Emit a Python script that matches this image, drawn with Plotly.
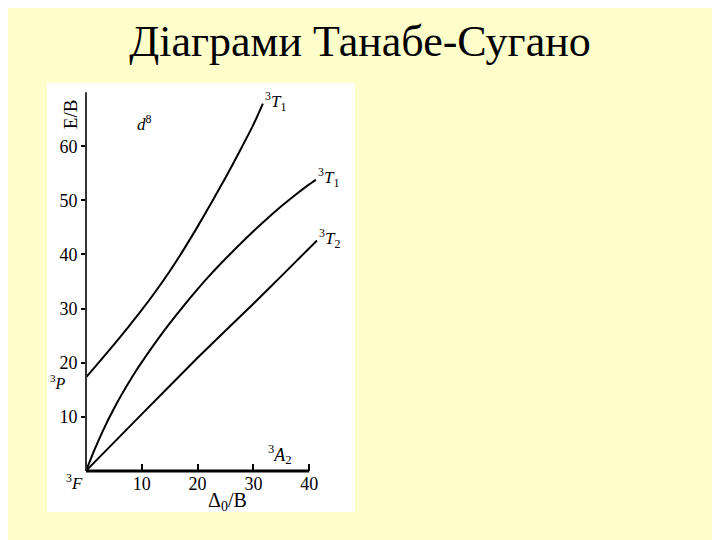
import plotly.graph_objects as go

# ---- data (Tanabe-Sugano d8) ----
top_x = [0, 2.5, 5, 7.5, 10, 12.5, 15, 17.5, 20, 22.5, 25, 27.5, 30, 31.7]
top_E = [17.3, 20.3, 23.35, 26.5, 29.75, 33.2, 36.9, 40.9, 45.15, 49.6, 54.2, 59.0, 64.0, 67.9]

mid_x = [0, 1, 2, 3, 4, 5, 6, 7, 8, 9, 10, 12.5, 15, 17.5, 20, 22.5, 25, 27.5, 30, 32.5, 35, 37.5, 40, 41.2]
mid_E = [0, 2.6, 5.05, 7.35, 9.5, 11.5, 13.4, 15.2, 16.9, 18.55, 20.1, 23.8, 27.25, 30.5,
         33.6, 36.5, 39.2, 41.8, 44.3, 46.65, 48.9, 51.0, 52.95, 53.8]

bot_x = [0, 10, 20, 30, 35, 41.4]
bot_E = [0, 10.5, 20.9, 30.9, 36.0, 42.6]

x_ticks = [10, 20, 30, 40]
y_ticks = [10, 20, 30, 40, 50, 60]
x_axis_max = 40
y_axis_max = 70

curve_labels = ["<sup>3</sup><i>T</i><sub>1</sub>",
                "<sup>3</sup><i>T</i><sub>1</sub>",
                "<sup>3</sup><i>T</i><sub>2</sub>"]

title_text = "Діаграми Танабе-Сугано"
serif = "Liberation Serif"

# the page body adds an 8px offset; the figure is sized to fill the rest of the window
W, H, OFF = 712, 532, 8

fig = go.Figure()
for xs, ys in [(top_x, top_E), (mid_x, mid_E), (bot_x, bot_E)]:
    fig.add_trace(go.Scatter(x=xs, y=ys, mode="lines", line=dict(color="black", width=2),
                             line_shape="spline", line_smoothing=0.6,
                             showlegend=False, hoverinfo="skip"))

# axis lines
fig.add_shape(type="line", x0=0, x1=0, y0=0, y1=y_axis_max, xref="x", yref="y",
              line=dict(color="#333333", width=2))
fig.add_shape(type="line", x0=0, x1=x_axis_max, y0=0, y1=0, xref="x", yref="y",
              line=dict(color="black", width=3))

ann = []
for (xs, ys), lab in zip([(top_x, top_E), (mid_x, mid_E), (bot_x, bot_E)], curve_labels):
    ann.append(dict(x=xs[-1], y=ys[-1], text=lab, showarrow=False, xanchor="left",
                    yanchor="middle", xshift=0, yshift=2,
                    font=dict(family=serif, size=17, color="black")))
ann += [
    dict(x=10.4, y=64.3, text="<i>d</i><sup>8</sup>", showarrow=False,
         font=dict(family=serif, size=17, color="black")),
    dict(x=-5.1, y=16.4, text="<sup>3</sup><i>P</i>", showarrow=False,
         font=dict(family=serif, size=16, color="black")),
    dict(x=-2.0, y=-2.0, text="<sup>3</sup><i>F</i>", showarrow=False,
         font=dict(family=serif, size=17, color="black")),
    dict(x=34.8, y=3.0, text="<sup>3</sup><i>A</i><sub>2</sub>", showarrow=False,
         font=dict(family=serif, size=18, color="black")),
    dict(x=-2.8, y=66.0, text="E/B", textangle=-90, showarrow=False,
         font=dict(family=serif, size=19, color="black")),
    dict(x=25.3, y=-5.7, text="Δ<sub>0</sub>/B", showarrow=False,
         font=dict(family=serif, size=20, color="black")),
]

fig.update_layout(
    width=W, height=H,
    margin=dict(l=47 - OFF, r=W - (355 - OFF), t=83 - OFF, b=H - (512 - OFF)),
    paper_bgcolor="#FFFFCC", plot_bgcolor="white",
    title=dict(text=title_text, x=(360 - OFF) / W, xref="container", xanchor="center",
               y=1 - (41 - OFF) / H, yref="container", yanchor="middle",
               font=dict(family=serif, size=44, color="black")),
    xaxis=dict(range=[-6.99, 48.21], anchor="free", position=0.0958,
               tickvals=x_ticks, ticks="inside", ticklen=7, tickwidth=2, tickcolor="black",
               showgrid=False, zeroline=False, showline=False,
               tickfont=dict(family=serif, size=18, color="black")),
    yaxis=dict(range=[-7.60, 71.70], anchor="free", position=0.1266,
               tickvals=y_ticks, ticks="outside", ticklen=5, tickwidth=2, tickcolor="black",
               showgrid=False, zeroline=False, showline=False,
               tickfont=dict(family=serif, size=18, color="black")),
    annotations=ann,
)

fig.write_html("out.html")
